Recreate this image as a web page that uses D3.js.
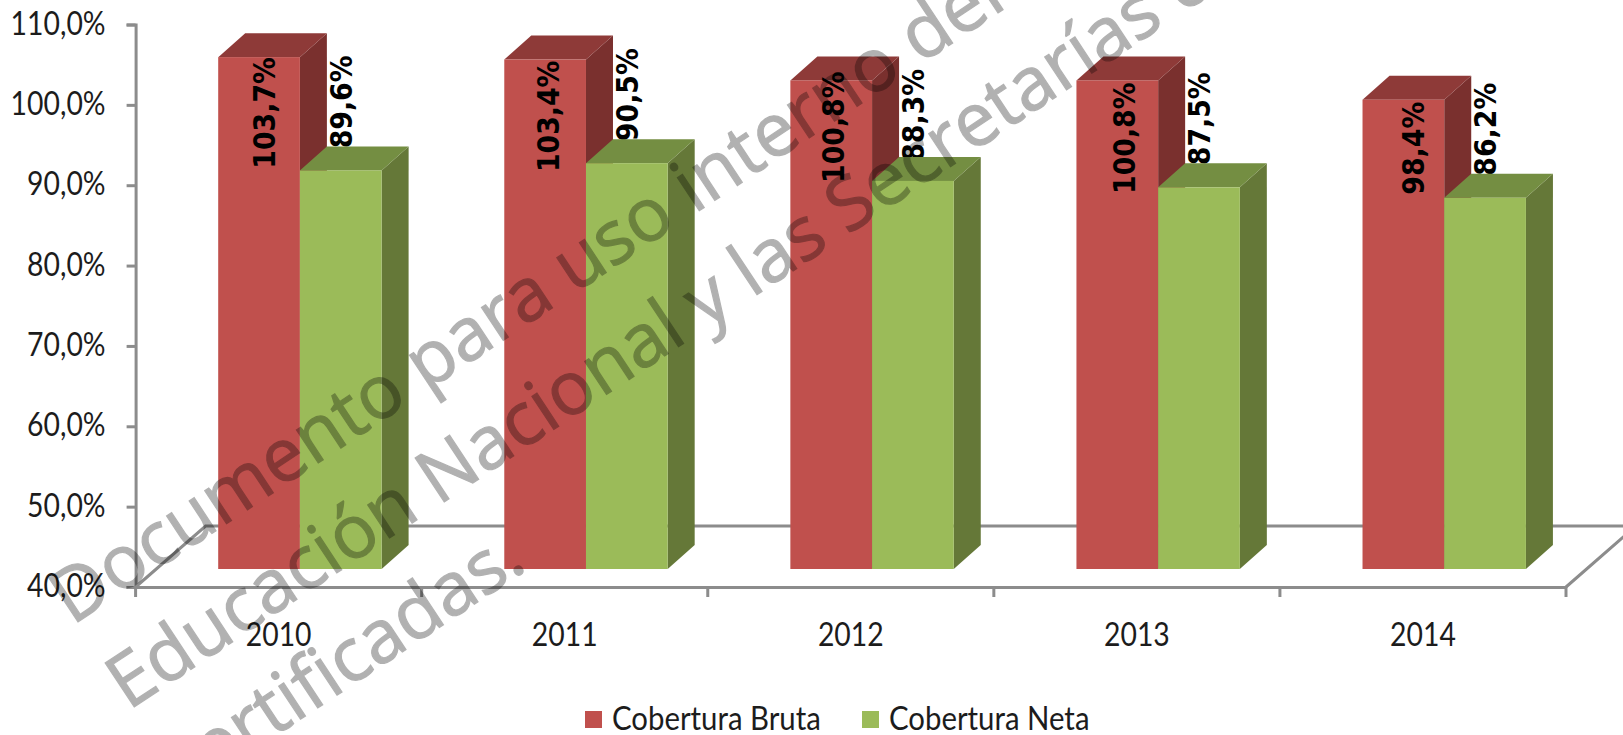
<!DOCTYPE html>
<html>
<head>
<meta charset="utf-8">
<script src="https://cdn.jsdelivr.net/npm/d3@7"></script>
<style>
  body { margin: 0; background: #fff; }
  svg { display: block; }
  .tick text, .legendText { font-family: Lato, sans-serif; fill: #1c1c1c; }
  .valueLabel { font-family: "DejaVu Sans", sans-serif; font-weight: bold; fill: #000; }
  .watermark { font-family: "Open Sans", sans-serif; fill: #000; stroke: #000; stroke-width: 1.2; }
</style>
</head>
<body>
<div id="chart"></div>
<script>
var years = ["2010", "2011", "2012", "2013", "2014"];
var bruta = [103.7, 103.4, 100.8, 100.8, 98.4];
var neta = [89.6, 90.5, 88.3, 87.5, 86.2];
var yTicks = [40, 50, 60, 70, 80, 90, 100, 110];
var seriesNames = ["Cobertura Bruta", "Cobertura Neta"];
var watermarkLines = [
    "Documento para uso interno del Ministerio de",
    "Educación Nacional y las Secretarías de Educación",
    "Certificadas."
];

var svgWidth = 1623;
var svgHeight = 735;

var svg = d3.select("#chart")
    .append("svg")
    .attr("width", svgWidth)
    .attr("height", svgHeight);

var x = d3.scaleBand().domain(years).range([135.6, 1566]);
var y = d3.scaleLinear().domain([40, 110]).range([587, 24.5]);

// 3d look: the bars stand forward of the axis plane
var depthX = 27;
var depthY = 24;
var floorLift = 18;
var barWidth = 81.7;
var barInset = 82.6;

var red = { front: "#c0504d", top: "#8e3a38", side: "#7a302e" };
var green = { front: "#9bbb59", top: "#748e42", side: "#657838" };

function fmt(v) {
    return v.toFixed(1).replace(".", ",") + "%";
}

// floor
var floorBack = y(40) - 61;
svg.append("path")
    .attr("d", `M${x.range()[0]},${y(40)}L${x.range()[0] + 70},${floorBack}H${svgWidth + 20}M${x.range()[1]},${y(40)}L${x.range()[1] + 70},${floorBack}`)
    .attr("fill", "none")
    .attr("stroke", "#8c8c8c")
    .attr("stroke-width", 3);

var leftAxis = d3.axisLeft(y)
    .tickValues(yTicks)
    .tickSize(9)
    .tickFormat(fmt);

var bottomAxis = d3.axisBottom(x)
    .tickSize(0);

// the source text is tall and narrow, Lato squeezed is the nearest thing
function styleAxis(g, dx, dy) {
    g.selectAll("path, line").attr("stroke", "#8c8c8c").attr("stroke-width", 3);
    g.selectAll("text")
        .attr("font-size", 33)
        .attr("x", 0)
        .attr("y", 0)
        .attr("transform", `translate(${dx}, ${dy}) scale(0.86, 1)`);
}

svg.append("g")
    .attr("transform", `translate(${x.range()[0]}, 0)`)
    .call(leftAxis)
    .call(styleAxis, -30, -1);

svg.append("g")
    .attr("transform", `translate(0, ${y(40)})`)
    .call(bottomAxis)
    .call(styleAxis, 0, 36);

// category separators sit on the band edges, not the centres
svg.append("g")
    .selectAll("line")
    .data(years.concat("end"))
    .enter()
    .append("line")
    .attr("x1", d => d == "end" ? x.range()[1] : x(d))
    .attr("x2", d => d == "end" ? x.range()[1] : x(d))
    .attr("y1", y(40))
    .attr("y2", y(40) + 10)
    .attr("stroke", "#8c8c8c")
    .attr("stroke-width", 3);

function drawBar(g, left, value, colors) {
    var top = y(value) - floorLift;
    var bottom = y(40) - floorLift;
    var right = left + barWidth;
    g.append("polygon")
        .attr("points", [[right, top], [right + depthX, top - depthY], [right + depthX, bottom - depthY], [right, bottom]].join(" "))
        .attr("fill", colors.side);
    g.append("polygon")
        .attr("points", [[left, top], [left + depthX, top - depthY], [right + depthX, top - depthY], [right, top]].join(" "))
        .attr("fill", colors.top);
    g.append("rect")
        .attr("x", left)
        .attr("y", top)
        .attr("width", barWidth)
        .attr("height", bottom - top)
        .attr("fill", colors.front);
}

function drawLabel(g, cx, topY, value) {
    g.append("text")
        .attr("class", "valueLabel")
        .attr("transform", `translate(${cx}, ${topY}) rotate(-90) scale(1, 1.12)`)
        .attr("text-anchor", "end")
        .attr("dominant-baseline", "central")
        .attr("font-size", 26.8)
        .text(fmt(value));
}

// hand placed offsets for the labels, the original has them a bit uneven
var brutaLabelDx = [6, 4, 3, 8, 11];
var brutaLabelDy = [0, 1, -9, 2, 2];
var netaLabelDy = [0, 0, 3, 0, 0];

years.forEach(function (year, i) {
    var g = svg.append("g");
    var left = x(year) + barInset;
    drawBar(g, left, bruta[i], red);
    drawLabel(g, left + barWidth / 2 + brutaLabelDx[i], y(bruta[i]) - floorLift + brutaLabelDy[i], bruta[i]);
    // green label goes first so the green top face cuts it off
    drawLabel(g, left + barWidth * 1.5 + 1, y(neta[i]) - floorLift - 115 + netaLabelDy[i], neta[i]);
    drawBar(g, left + barWidth, neta[i], green);
});

// legend
var legend = svg.append("g");
var legendX = [585, 862];
seriesNames.forEach(function (name, i) {
    legend.append("rect")
        .attr("x", legendX[i])
        .attr("y", 711)
        .attr("width", 17)
        .attr("height", 17)
        .attr("fill", i == 0 ? red.front : green.front);
    legend.append("text")
        .attr("class", "legendText")
        .attr("transform", `translate(${legendX[i] + 27}, 730) scale(0.89, 1)`)
        .attr("font-size", 33)
        .text(name);
});

// watermark on top of everything
var mark = svg.append("g")
    .attr("opacity", 0.3)
    .attr("transform", "translate(72, 626) rotate(-33.5)");
mark.selectAll("text")
    .data(watermarkLines)
    .enter()
    .append("text")
    .attr("class", "watermark")
    .attr("x", (d, i) => i == 2 ? -12 : 0)
    .attr("y", (d, i) => i * 102)
    .attr("font-size", 74)
    .text(d => d);
</script>
</body>
</html>
